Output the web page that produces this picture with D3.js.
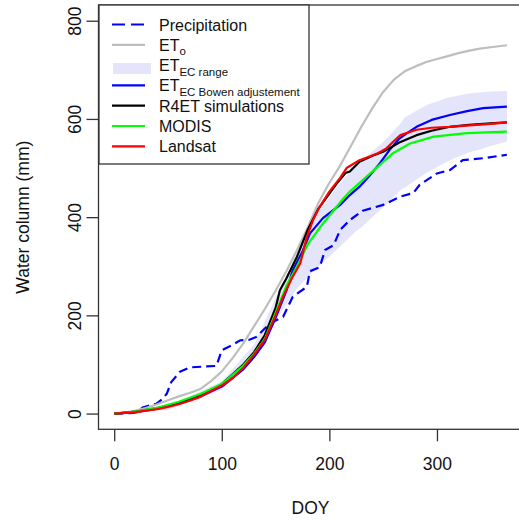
<!DOCTYPE html>
<html>
<head>
<meta charset="utf-8">
<script src="https://cdn.jsdelivr.net/npm/d3@7"></script>
<style>
  body { margin: 0; background: #fff; }
  svg { display: block; font-family: "Liberation Sans", Arial, sans-serif; }
</style>
</head>
<body>
<svg id="chart" width="519" height="522"></svg>
<script>
// ---- Data ----
const precipDoy = [0, 15, 21, 27, 39, 45, 49, 53, 61, 70, 86, 95, 100, 110, 117, 125, 132, 145, 157, 166, 179, 182, 191, 196, 204, 210, 219, 231, 250, 266, 278, 284, 300, 312, 324, 343, 365];
const precipVal = [0, 1, 3, 13, 20, 30, 41, 64, 85, 94, 96, 97, 129, 140, 149, 150, 156, 184, 197, 238, 258, 290, 298, 333, 343, 374, 394, 413, 425, 442, 449, 466, 489, 496, 516, 520, 527];

const etoDoy = [0, 10, 20, 30, 40, 50, 60, 70, 80, 90, 100, 110, 120, 130, 140, 150, 160, 170, 180, 190, 200, 210, 220, 230, 240, 250, 260, 270, 280, 290, 300, 310, 320, 330, 340, 350, 365];
const etoVal = [0, 2, 6, 12, 19, 27, 35, 42, 50, 66, 86, 113, 143, 178, 213, 250, 290, 333, 380, 430, 470, 505, 545, 585, 622, 655, 680, 697, 707, 716, 722, 728, 734, 739, 743, 746, 750];

const rangeDoy = [0, 50, 100, 130, 150, 170, 185, 200, 210, 225, 230, 250, 266, 270, 290, 310, 312, 330, 340, 350, 365];
const rangeLow = [0, 8, 48, 115, 190, 255, 290, 320, 340, 372, 380, 420, 455, 460, 490, 514, 516, 532, 538, 545, 554];
const rangeHigh = [0, 14, 66, 140, 235, 325, 395, 440, 470, 505, 515, 553, 590, 603, 628, 643, 644, 652, 654, 656, 657];

const bowenDoy = [0, 20, 40, 60, 80, 100, 120, 130, 140, 150, 160, 166, 175, 182, 194, 210, 219, 228, 238, 247, 256, 265, 275, 281, 295, 312, 328, 343, 365];
const bowenVal = [0, 3, 10, 20, 35, 55, 90, 115, 145, 195, 250, 292, 330, 367, 398, 425, 445, 462, 486, 510, 537, 560, 575, 584, 598, 608, 616, 622, 625];

const r4etDoy = [0, 20, 40, 60, 80, 100, 120, 130, 140, 150, 154, 160, 170, 180, 190, 200, 207, 215, 219, 228, 240, 250, 265, 281, 295, 312, 330, 350, 365];
const r4etVal = [0, 4, 11, 22, 38, 60, 100, 125, 160, 215, 251, 275, 320, 375, 418, 448, 469, 490, 493, 513, 525, 533, 552, 567, 576, 584, 588, 591, 593];

const modisDoy = [0, 20, 40, 60, 80, 100, 120, 130, 140, 150, 160, 170, 180, 193, 213, 219, 238, 259, 275, 297, 328, 365];
const modisVal = [0, 4, 12, 24, 40, 60, 98, 122, 152, 205, 260, 300, 345, 384, 438, 452, 489, 530, 550, 564, 571, 574];

const landsatDoy = [0, 20, 40, 49, 60, 70, 80, 90, 100, 110, 120, 130, 140, 150, 157, 165, 173, 179, 185, 191, 200, 210, 216, 228, 238, 245, 253, 260, 266, 281, 295, 312, 330, 350, 365];
const landsatVal = [0, 3, 9, 13, 19, 26, 34, 46, 57, 72, 93, 120, 150, 200, 238, 275, 306, 360, 395, 421, 452, 480, 500, 516, 524, 530, 540, 555, 567, 578, 582, 584, 587, 590, 593];

const xTicks = [0, 100, 200, 300];
const yTicks = [0, 200, 400, 600, 800];

// ---- Layout ----
const svg = d3.select("#chart");
const plotL = 98.5, plotR = 522.6, plotT = 5, plotB = 429.3;
const x = d3.scaleLinear().domain([-14.6, 379.6]).range([plotL, plotR]);
const y = d3.scaleLinear().domain([-32, 832]).range([plotB, plotT]);

const zip = (xs, ys) => xs.map((d, i) => [d, ys[i]]);
const line = d3.line().x(d => x(d[0])).y(d => y(d[1]));

// range band
const bandData = rangeDoy.map((d, i) => ({ d, lo: rangeLow[i], hi: rangeHigh[i] }));
svg.append("path")
  .datum(bandData)
  .attr("fill", "#E4E4FA")
  .attr("d", d3.area().x(d => x(d.d)).y0(d => y(d.lo)).y1(d => y(d.hi)));

const series = [
  { xs: precipDoy, ys: precipVal, color: "#0000FF", dash: "9,5" },
  { xs: etoDoy, ys: etoVal, color: "#BEBEBE" },
  { xs: bowenDoy, ys: bowenVal, color: "#0000FF" },
  { xs: r4etDoy, ys: r4etVal, color: "#000000" },
  { xs: modisDoy, ys: modisVal, color: "#00FF00" },
  { xs: landsatDoy, ys: landsatVal, color: "#FF0000" }
];
series.forEach(s => {
  svg.append("path")
    .datum(zip(s.xs, s.ys))
    .attr("fill", "none")
    .attr("stroke", s.color)
    .attr("stroke-width", 2.2)
    .attr("stroke-linejoin", "round")
    .attr("stroke-dasharray", s.dash || null)
    .attr("d", line);
});

// box
svg.append("rect")
  .attr("x", plotL).attr("y", plotT)
  .attr("width", plotR - plotL).attr("height", plotB - plotT)
  .attr("fill", "none").attr("stroke", "#333").attr("stroke-width", 1.3);

// axes
const xAxis = svg.append("g").attr("transform", `translate(0,${plotB})`)
  .call(d3.axisBottom(x).tickValues(xTicks).tickSize(12).tickPadding(16));
const yAxis = svg.append("g").attr("transform", `translate(${plotL},0)`)
  .call(d3.axisLeft(y).tickValues(yTicks).tickSize(12).tickPadding(6));
[xAxis, yAxis].forEach(a => {
  a.select(".domain").remove();
  a.selectAll("line").attr("stroke", "#333").attr("stroke-width", 1.3);
  a.selectAll("text").attr("font-size", 17.5).attr("fill", "#111")
    .attr("font-family", "Liberation Sans, Arial, sans-serif");
});
yAxis.selectAll(".tick text")
  .attr("text-anchor", "middle")
  .attr("dy", null)
  .attr("x", null)
  .attr("transform", "translate(-24,0) rotate(-90)")
  .attr("dominant-baseline", "central")
  .attr("y", 0);
// D3 axisLeft sets x on text; reposition
yAxis.selectAll(".tick text").attr("x", 0).attr("y", 0).attr("transform", "translate(-30,0) rotate(-90)").attr("dy", "0.35em");

// axis titles
svg.append("text").attr("x", (x(0) + x(365)) / 2 - 0).attr("y", 514)
  .attr("text-anchor", "middle").attr("font-size", 17.5).attr("fill", "#111")
  .text("DOY");
svg.append("text")
  .attr("transform", `translate(29,${(plotT + plotB) / 2}) rotate(-90)`)
  .attr("text-anchor", "middle").attr("font-size", 17.5).attr("fill", "#111")
  .text("Water column (mm)");

// legend
const lg = svg.append("g");
lg.append("rect").attr("x", 99).attr("y", 5).attr("width", 210).attr("height", 159)
  .attr("fill", "#fff").attr("stroke", "#333").attr("stroke-width", 1.3);
const rows = [
  { main: "Precipitation", type: "line", color: "#0000FF", dash: "13,6" },
  { main: "ET", sub: "o", type: "line", color: "#BEBEBE" },
  { main: "ET", sub: "EC range", type: "box", color: "#E4E4FA" },
  { main: "ET", sub: "EC Bowen adjustement", type: "line", color: "#0000FF" },
  { main: "R4ET simulations", type: "line", color: "#000000" },
  { main: "MODIS", type: "line", color: "#00FF00" },
  { main: "Landsat", type: "line", color: "#FF0000" }
];
rows.forEach((r, i) => {
  const cy = 24.5 + i * 20.3;
  if (r.type === "line") {
    lg.append("line").attr("x1", 112).attr("x2", 145).attr("y1", cy).attr("y2", cy)
      .attr("stroke", r.color).attr("stroke-width", 2.2)
      .attr("stroke-dasharray", r.dash || null);
  } else {
    lg.append("rect").attr("x", 113).attr("y", cy - 2).attr("width", 38).attr("height", 11)
      .attr("fill", r.color);
  }
  const t = lg.append("text").attr("x", 159).attr("y", cy + 6).attr("font-size", 16).attr("fill", "#111");
  t.append("tspan").text(r.main);
  if (r.sub) t.append("tspan").attr("font-size", 11.5).attr("dy", 4.5).text(r.sub);
});
</script>
</body>
</html>
